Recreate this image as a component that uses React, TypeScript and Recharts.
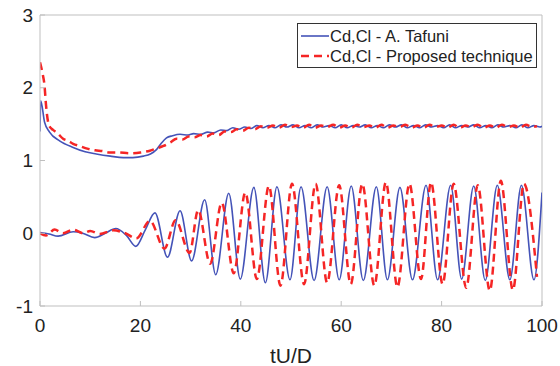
import React from 'react';
import { LineChart, Line, XAxis, YAxis, ReferenceLine } from 'recharts';

// x ticks / y ticks
const xTicks = [0, 20, 40, 60, 80, 100];
const yTicks = [-1, 0, 1, 2, 3];

// Cd - A. Tafuni  [tU/D, value]
const cdTafuni: [number, number][] = [
  [0, 1.4], [0.15, 1.82], [0.9, 1.53], [1.9, 1.39], [3.9, 1.27], [6.6, 1.18], [9, 1.12],
  [11.2, 1.09], [14, 1.06], [16.6, 1.04], [18.5, 1.04], [20.6, 1.06], [22, 1.09], [23.2, 1.15],
  [24.2, 1.24], [25.2, 1.31], [26.4, 1.34], [27.9, 1.36], [29.5, 1.35], [30.6, 1.37], [32, 1.36],
  [33.4, 1.39], [34.6, 1.38], [36, 1.42], [37.2, 1.41], [38.4, 1.45], [39.6, 1.43], [40.8, 1.46],
  [42, 1.44], [43.2, 1.48], [44.4, 1.45], [45.6, 1.48], [46.8, 1.45], [48, 1.49], [49.2, 1.46],
  [50.4, 1.49], [51.6, 1.45], [52.8, 1.48], [54, 1.45], [55.2, 1.49], [56.4, 1.46], [57.6, 1.48],
  [58.8, 1.45], [60, 1.49], [61.2, 1.45], [62.4, 1.48], [63.6, 1.46], [64.8, 1.49], [66, 1.45],
  [67.2, 1.48], [68.4, 1.45], [69.6, 1.49], [70.8, 1.46], [72, 1.49], [73.2, 1.45], [74.4, 1.48],
  [75.6, 1.45], [76.8, 1.49], [78, 1.46], [79.2, 1.48], [80.4, 1.45], [81.6, 1.49], [82.8, 1.45],
  [84, 1.48], [85.2, 1.46], [86.4, 1.49], [87.6, 1.45], [88.8, 1.48], [90, 1.45], [91.2, 1.49],
  [92.4, 1.46], [93.6, 1.48], [94.8, 1.45], [96, 1.49], [97.2, 1.45], [98.4, 1.48], [99.6, 1.46],
  [100, 1.47],
];

// Cl - A. Tafuni (peaks / troughs)
const clTafuni: [number, number][] = [
  [0, 0.01], [1.8, -0.01], [3.6, -0.04], [6.6, 0.02], [8.5, 0], [10.9, -0.06], [13, 0],
  [15.1, 0.065], [17.2, -0.03], [19.1, -0.18], [21, 0.05], [22.9, 0.28], [25.4, -0.33],
  [27.9, 0.31], [30.2, -0.38], [32.8, 0.46], [35, -0.57], [37.6, 0.55], [39.9, -0.63],
  [42.6, 0.63], [44.9, -0.68], [47.2, 0.64], [49.8, -0.64], [52, 0.64], [54.6, -0.65],
  [57.2, 0.64], [59.6, -0.64], [62, 0.65], [64.4, -0.65], [67, 0.64], [69.2, -0.64],
  [71.7, 0.63], [74.2, -0.64], [76.9, 0.66], [79.2, -0.64], [81.8, 0.66], [84, -0.63],
  [86.4, 0.65], [88.7, -0.65], [91.1, 0.66], [93.6, -0.64], [95.9, 0.66], [98.4, -0.64],
  [100, 0.56],
];

// Cd - Proposed technique
const cdProposed: [number, number][] = [
  [0, 2.35], [0.5, 2.2], [0.9, 2.03], [1.2, 1.76], [1.8, 1.48], [2.6, 1.42], [3.4, 1.38],
  [4.6, 1.3], [5.6, 1.27], [6.6, 1.23], [7.8, 1.2], [9.6, 1.16], [11, 1.14], [12.4, 1.13],
  [13.9, 1.11], [15.5, 1.11], [17.9, 1.1], [20, 1.11], [21.9, 1.135], [23, 1.16], [24.6, 1.2],
  [26, 1.25], [27.2, 1.3], [28.4, 1.29], [29.6, 1.33], [30.8, 1.32], [32, 1.35], [33.2, 1.33],
  [34.4, 1.37], [35.6, 1.35], [36.8, 1.4], [38, 1.39], [39.2, 1.43], [40.4, 1.41], [41.6, 1.45],
  [42.8, 1.43], [44, 1.47], [45.2, 1.45], [46.4, 1.48], [47.6, 1.45], [48.8, 1.49], [50, 1.46],
  [51.2, 1.48], [52.4, 1.45], [53.6, 1.49], [54.8, 1.45], [56, 1.48], [57.2, 1.46], [58.4, 1.49],
  [59.6, 1.45], [60.8, 1.48], [62, 1.45], [63.2, 1.49], [64.4, 1.46], [65.6, 1.48], [66.8, 1.45],
  [68, 1.49], [69.2, 1.45], [70.4, 1.48], [71.6, 1.46], [72.8, 1.49], [74, 1.45], [75.2, 1.48],
  [76.4, 1.45], [77.6, 1.49], [78.8, 1.46], [80, 1.48], [81.2, 1.45], [82.4, 1.49], [83.6, 1.45],
  [84.8, 1.48], [86, 1.46], [87.2, 1.49], [88.4, 1.45], [89.6, 1.48], [90.8, 1.45], [92, 1.49],
  [93.2, 1.46], [94.4, 1.48], [95.6, 1.45], [96.8, 1.49], [98, 1.46], [99, 1.47],
];

// Cl - Proposed technique
const clProposed: [number, number][] = [
  [0, 0], [1.2, -0.03], [2.9, 0.05], [4.6, 0], [6.6, 0.05], [8.6, 0], [10, 0.03], [11.9, -0.01],
  [14.6, 0.04], [17, 0], [19.2, -0.07], [21.9, 0.17], [24.8, -0.21], [27, 0.18], [29.8, -0.27],
  [31.5, 0.32], [33.9, -0.42], [36.2, 0.42], [38.6, -0.55], [40.9, 0.56], [43.2, -0.63],
  [45.6, 0.65], [47.9, -0.72], [50.2, 0.68], [52.6, -0.7], [54.9, 0.68], [57.2, -0.68],
  [59.6, 0.66], [61.9, -0.7], [64.2, 0.68], [66.6, -0.72], [68.9, 0.7], [71.2, -0.74],
  [73.6, 0.68], [75.9, -0.63], [77.9, 0.7], [80.2, -0.7], [82.4, 0.68], [84.9, -0.75],
  [87.2, 0.66], [89.6, -0.79], [91.8, 0.72], [94.2, -0.78], [96.4, 0.68], [99, -0.6],
];

const BLUE = '#4453b8';
const RED = '#f52525';
const AXIS = '#bfbfbf';
const FONT = '"Liberation Sans", Arial, sans-serif';

const legendItems = [
  { label: 'Cd,Cl - A. Tafuni', color: BLUE, dash: '' },
  { label: 'Cd,Cl - Proposed technique', color: RED, dash: '8 5' },
];

const toPoints = (arr: [number, number][]) => arr.map(([t, v]) => ({ t, v }));

const LegendBox = () => (
  <div
    style={{
      position: 'absolute',
      left: 297,
      top: 23,
      border: '1px solid #333',
      background: '#fff',
      width: 240,
      height: 45,
      boxSizing: 'border-box',
      padding: '2px 0 0 2px',
      fontFamily: FONT,
      fontSize: 16.5,
      color: '#222',
    }}
  >
    {legendItems.map((item) => (
      <div key={item.label} style={{ display: 'flex', alignItems: 'center', height: 20 }}>
        <svg width={30} height={10}>
          <line x1={1} y1={5} x2={29} y2={5} stroke={item.color} strokeWidth={item.dash ? 2.5 : 1.6} strokeDasharray={item.dash || undefined} />
        </svg>
        <span style={{ whiteSpace: 'nowrap' }}>{item.label}</span>
      </div>
    ))}
  </div>
);

export default function App() {
  const tickStyle = { fontSize: 19, fontFamily: FONT, fill: '#222' };
  return (
    <div style={{ position: 'absolute', left: 0, top: 0, width: 560, height: 366, background: '#fff' }}>
      <LineChart width={560} height={366} margin={{ top: 15, right: 18, left: 0, bottom: 0 }}>
        <XAxis
          dataKey="t"
          type="number"
          domain={[0, 100]}
          ticks={xTicks}
          allowDataOverflow
          height={60}
          tickSize={-5}
          tickMargin={18}
          tick={tickStyle}
          stroke={AXIS}
          tickLine={{ stroke: AXIS }}
          axisLine={{ stroke: AXIS }}
          label={{ value: 'tU/D', position: 'insideBottom', offset: 3, style: { fontSize: 21, fontFamily: FONT, fill: '#222' } }}
        />
        <YAxis
          type="number"
          domain={[-1, 3]}
          ticks={yTicks}
          allowDataOverflow
          width={40}
          tickSize={-5}
          tickMargin={12}
          tick={tickStyle}
          stroke={AXIS}
        />
        <ReferenceLine y={3} stroke={AXIS} />
        <ReferenceLine x={100} stroke={AXIS} />
        <Line data={toPoints(cdTafuni)} dataKey="v" type="monotone" stroke={BLUE} strokeWidth={1.6} dot={false} isAnimationActive={false} />
        <Line data={toPoints(clTafuni)} dataKey="v" type="monotone" stroke={BLUE} strokeWidth={1.6} dot={false} isAnimationActive={false} />
        <Line data={toPoints(cdProposed)} dataKey="v" type="monotone" stroke={RED} strokeWidth={2.5} strokeDasharray="8 5" dot={false} isAnimationActive={false} />
        <Line data={toPoints(clProposed)} dataKey="v" type="monotone" stroke={RED} strokeWidth={2.5} strokeDasharray="8 5" dot={false} isAnimationActive={false} />
      </LineChart>
      <LegendBox />
    </div>
  );
}
